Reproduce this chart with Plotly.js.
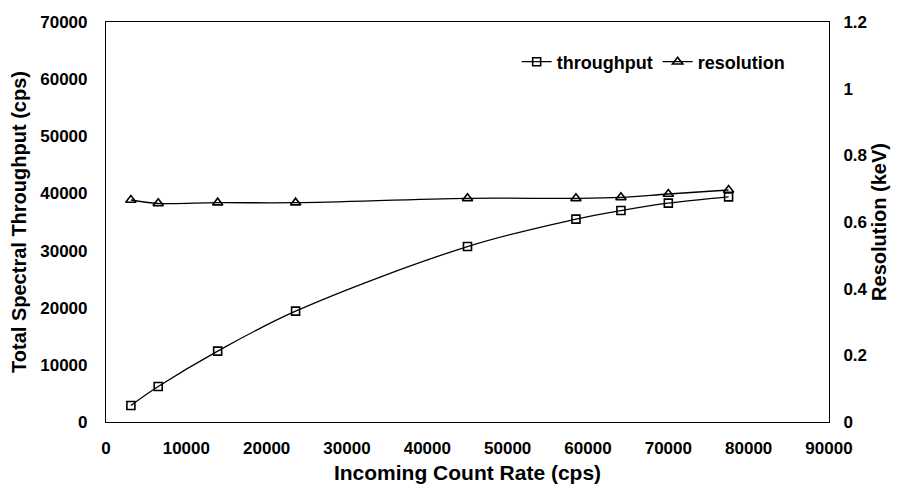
<!DOCTYPE html>
<html>
<head>
<meta charset="utf-8">
<script src="https://cdn.plot.ly/plotly-3.0.1.min.js"></script>
<style>html,body{margin:0;padding:0;background:#fff;}</style>
</head>
<body>
<div id="chart" style="width:897px;height:495px;"></div>
<script>
// Data
const incomingRate = [3100, 6500, 13900, 23600, 45000, 58500, 64100, 70000, 77500];
const throughput   = [2900, 6200, 12400, 19400, 30700, 35500, 37000, 38300, 39400];
const resolution   = [0.666, 0.656, 0.658, 0.658, 0.671, 0.671, 0.674, 0.684, 0.696];

const xTitle = 'Incoming Count Rate (cps)';
const yTitle = 'Total Spectral Throughput (cps)';
const y2Title = 'Resolution (keV)';
const seriesNames = ['throughput', 'resolution'];

const FONT = 'Liberation Sans, Arial, Helvetica, sans-serif';

const traces = [
  {
    x: incomingRate, y: throughput, name: seriesNames[0],
    type: 'scatter', mode: 'lines+markers',
    line: {color: '#000', width: 1.3, shape: 'spline'},
    marker: {symbol: 'square-open', size: 8, color: '#000', line: {width: 1.6, color: '#000'}},
    yaxis: 'y'
  },
  {
    x: incomingRate, y: resolution, name: seriesNames[1],
    type: 'scatter', mode: 'lines+markers',
    line: {color: '#000', width: 1.3, shape: 'spline'},
    marker: {symbol: 'triangle-up-open', size: 9, color: '#000', line: {width: 1.6, color: '#000'}},
    yaxis: 'y2'
  }
];

const tickFont = {family: FONT, size: 17, color: '#000', weight: 'bold'};
const titleFont = {family: FONT, size: 21, color: '#000', weight: 'bold'};
const yTitleFont = {family: FONT, size: 20, color: '#000', weight: 'bold'};

const layout = {
  width: 897, height: 495,
  margin: {l: 106, r: 68, t: 22, b: 73},
  paper_bgcolor: '#fff', plot_bgcolor: '#fff',
  showlegend: true,
  legend: {
    orientation: 'h', x: 0.568, y: 0.9, xanchor: 'left', yanchor: 'middle',
    font: {family: FONT, size: 18, color: '#000', weight: 'bold'},
    bgcolor: 'rgba(0,0,0,0)'
  },
  xaxis: {
    range: [0, 90000], dtick: 10000, tick0: 0, tickformat: 'd',
    showline: true, linecolor: '#000', linewidth: 1.2, mirror: true,
    showgrid: false, zeroline: false,
    ticks: 'outside', ticklen: 10, tickcolor: 'rgba(0,0,0,0)',
    tickfont: tickFont,
    title: {text: xTitle, font: titleFont, standoff: 8},
    automargin: false
  },
  yaxis: {
    range: [0, 70000], dtick: 10000, tick0: 0, tickformat: 'd',
    showline: true, linecolor: '#000', linewidth: 1.2, mirror: true,
    showgrid: false, zeroline: false,
    ticks: 'outside', ticklen: 14, tickcolor: 'rgba(0,0,0,0)',
    tickfont: tickFont,
    title: {text: yTitle, font: yTitleFont, standoff: 8},
    automargin: false
  },
  yaxis2: {
    range: [0, 1.2], dtick: 0.2, tick0: 0,
    overlaying: 'y', side: 'right',
    showline: false, showgrid: false, zeroline: false,
    ticks: 'outside', ticklen: 10, tickcolor: 'rgba(0,0,0,0)',
    tickfont: tickFont,
    title: {text: y2Title, font: yTitleFont, standoff: 0},
    automargin: false
  }
};

Plotly.newPlot('chart', traces, layout, {displayModeBar: false, responsive: false});
</script>
</body>
</html>
